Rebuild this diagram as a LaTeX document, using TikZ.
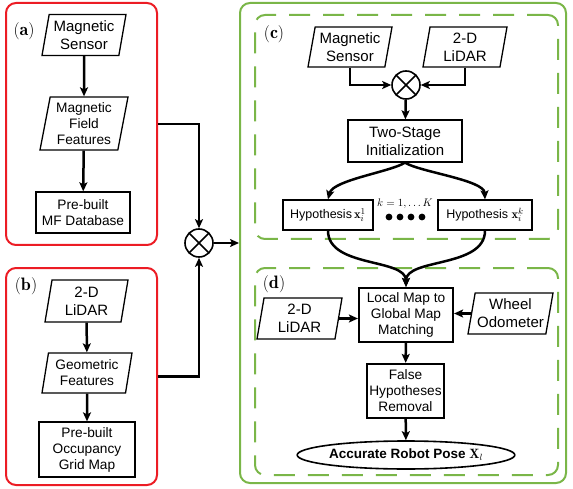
\documentclass[tikz,border=0pt]{standalone}
\usepackage{fontspec}
\setsansfont{Liberation Sans}
\usetikzlibrary{shapes.geometric,arrows.meta}
\definecolor{redb}{HTML}{EC1C24}
\definecolor{greenb}{HTML}{7AB648}
\tikzset{
  conn/.style={line width=2.5pt,-{Stealth[length=9pt,width=8pt,inset=2pt]}},
  para/.style={trapezium,trapezium left angle=77,trapezium right angle=103,
    trapezium stretches body,draw,line width=1.3pt,inner sep=1pt,align=center},
  boxn/.style={rectangle,draw,line width=1.3pt,inner sep=1pt,align=center},
  boxthick/.style={rectangle,draw,line width=2.2pt,inner sep=1pt,align=center},
  bigtxt/.style={font=\sffamily\fontsize{15}{18}\selectfont},
  midtxt/.style={font=\sffamily\fontsize{13.7}{16}\selectfont},
  smalltxt/.style={font=\sffamily\fontsize{12.5}{15}\selectfont},
  grplab/.style={font=\fontsize{18}{20}\selectfont,inner sep=0pt},
  redgroup/.style={rectangle,draw=redb,line width=2pt,rounded corners=10pt},
  greengroup/.style={rectangle,draw=greenb,line width=2pt,rounded corners=10pt},
  dashgroup/.style={rectangle,draw=greenb,line width=2pt,rounded corners=10pt,dash pattern=on 21pt off 13pt},
  oplus/.style={circle,draw,line width=1.6pt,minimum size=28pt,inner sep=0pt,
    path picture={\draw[line width=1.6pt]
      (path picture bounding box.north west) -- (path picture bounding box.south east)
      (path picture bounding box.north east) -- (path picture bounding box.south west);}},
  blackdot/.style={circle,fill,inner sep=0pt,minimum size=6.8pt},
}
\begin{document}
\begin{tikzpicture}[x=1pt,y=-1pt]
\useasboundingbox (0,0) rectangle (573,489);

% group frames
\node[redgroup,minimum width=151pt,minimum height=242pt] (A) at (81.5,124) {};
\node[redgroup,minimum width=151pt,minimum height=217pt] (B) at (81.5,376.5) {};
\node[greengroup,minimum width=326pt,minimum height=480pt] (G) at (403,243) {};
\node[dashgroup,minimum width=303pt,minimum height=224pt] (C) at (406.5,127) {};
\node[dashgroup,minimum width=303pt,minimum height=207pt] (D) at (406.5,371.5) {};

\node[grplab] (la) at (24,31) {$\mathbf{(a)}$};
\node[grplab] (lb) at (26,286) {$\mathbf{(b)}$};
\node[grplab] (lc) at (274,34) {$\mathbf{(c)}$};
\node[grplab] (ld) at (274,284) {$\mathbf{(d)}$};

% (a)
\node[para,bigtxt,minimum width=84pt,minimum height=41pt] (ms1) at (84,35) {Magnetic\\Sensor};
\node[para,midtxt,minimum width=88pt,minimum height=53pt] (mff) at (84,123.5) {Magnetic\\Field\\Features};
\node[boxn,midtxt,minimum width=94pt,minimum height=41pt] (db) at (83,212.5) {Pre-built\\MF Database};
\draw[conn] (ms1) -- (mff);
\draw[conn] (mff) -- (db);

% (b)
\node[para,bigtxt,minimum width=83pt,minimum height=42pt] (ld1) at (86.5,301) {2-D\\LiDAR};
\node[para,midtxt,minimum width=90pt,minimum height=40pt] (gf) at (87,373) {Geometric\\Features};
\node[boxn,midtxt,minimum width=96pt,minimum height=55pt] (og) at (87,449.5) {Pre-built\\Occupancy\\Grid Map};
\draw[conn] (ld1) -- (gf);
\draw[conn] (gf) -- (og);

% main fusion
\node[oplus] (ox) at (199,243) {};
\draw[conn] (A.east) -| (ox.north);
\draw[conn] (B.east) -| (ox.south);
\draw[conn] (ox.east) -- (ox.east -| G.west);

% (c)
\node[para,bigtxt,minimum width=84pt,minimum height=40pt] (ms2) at (350,47) {Magnetic\\Sensor};
\node[para,bigtxt,minimum width=84pt,minimum height=40pt] (ld2) at (465,47) {2-D\\LiDAR};
\node[oplus] (ox2) at (406,85) {};
\draw[conn] (ms2.south) |- (ox2.west);
\draw[conn] (ld2.south) |- (ox2.east);
\node[boxn,bigtxt,minimum width=114pt,minimum height=42pt] (ts) at (405,141) {Two-Stage\\Initialization};
\draw[conn] (ox2) -- (ts);
\node[boxn,smalltxt,minimum width=90pt,minimum height=30pt,inner sep=0pt] (h1) at (328,215) {Hypothesis\,$\mathbf{x}_i^1$};
\node[boxn,smalltxt,minimum width=94pt,minimum height=30pt,inner sep=0pt] (hk) at (485,215) {Hypothesis $\mathbf{x}_i^k$};
\node[blackdot] (d1) at (389,217) {};
\node[blackdot] (d2) at (400,217) {};
\node[blackdot] (d3) at (411,217) {};
\node[blackdot] (d4) at (422,217) {};
\node[font=\fontsize{11}{12}\selectfont,inner sep=0pt] (kl) at (405,204) {$k=1,\dots K$};
\draw[conn] (ts.south) .. controls (390,172) and (333,180) .. (h1.north);
\draw[conn] (ts.south) .. controls (420,172) and (484,180) .. (hk.north);

% (d)
\node[boxthick,midtxt,minimum width=94pt,minimum height=54pt] (lm) at (406,315) {Local Map to\\Global Map\\Matching};
\draw[conn] (h1.south) .. controls (328,268) and (406,258) .. (lm.north);
\draw[conn] (hk.south) .. controls (485,268) and (406,258) .. (lm.north);
\node[para,bigtxt,minimum width=85pt,minimum height=41pt] (ld3) at (299.5,318.5) {2-D\\LiDAR};
\node[para,bigtxt,minimum width=85pt,minimum height=41pt] (wo) at (510.5,313.5) {Wheel\\Odometer};
\draw[conn] (ld3.east) -- (ld3.east -| lm.west);
\draw[conn] (wo.west) -- (wo.west -| lm.east);
\node[boxthick,midtxt,minimum width=77pt,minimum height=54pt] (fh) at (405.5,391) {False\\Hypotheses\\Removal};
\draw[conn] (lm) -- (fh);
\node[ellipse,draw,line width=1.6pt,minimum width=180pt,minimum height=28pt,inner sep=0pt,
  font=\sffamily\bfseries\fontsize{13.5}{15}\selectfont] (el) at (406,455) {Accurate Robot Pose $\mathbf{X}_l$};
\draw[conn] (fh) -- (el);
\end{tikzpicture}
\end{document}
